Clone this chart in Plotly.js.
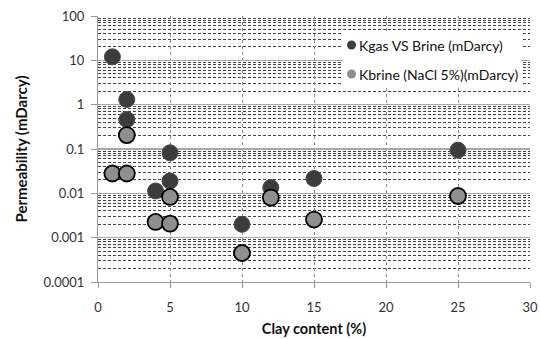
<!DOCTYPE html>
<html><head><meta charset="utf-8">
<script src="https://cdn.plot.ly/plotly-3.0.1.min.js"></script>
<style>body{margin:0;background:#fff}#c{width:540px;height:339px}</style>
</head><body><div id="c"></div>
<script>
var gasX = [1, 2, 2, 5, 5, 4, 10, 12, 15, 25];
var gasY = [12, 1.31, 0.46, 0.082, 0.019, 0.0113, 0.002, 0.0135, 0.0216, 0.094];
var brineX = [1, 2, 2, 5, 4, 5, 10, 12, 15, 25];
var brineY = [0.028, 0.028, 0.206, 0.0083, 0.00226, 0.00207, 0.00045, 0.008, 0.00256, 0.0087];
var gasName = 'Kgas VS Brine (mDarcy)';
var brineName = 'Kbrine (NaCl 5%)(mDarcy)';
var yTickVals = [0.0001, 0.001, 0.01, 0.1, 1, 10, 100];
var yTickText = ['0.0001', '0.001', '0.01', '0.1', '1', '10', '100'];
var xTickVals = [0, 5, 10, 15, 20, 25, 30];

var F = 'Lato, sans-serif';
var gasColor = '#3c3c3c', brineColor = '#8f8f8f';
var W = 540, H = 339, M = {l: 98, r: 10, t: 16, b: 57};
var pw = W - M.l - M.r, ph = H - M.t - M.b;
function px(x) { return (x - M.l) / pw; }
function py(y) { return 1 - (y - M.t) / ph; }

var traces = [
  {x: gasX, y: gasY, type: 'scatter', mode: 'markers', name: gasName, showlegend: false,
   marker: {size: 16, color: gasColor, line: {width: 1, color: '#4a4a4a'}}},
  {x: brineX, y: brineY, type: 'scatter', mode: 'markers', name: brineName, showlegend: false,
   marker: {size: 16, color: brineColor, line: {width: 1.8, color: '#000'}}}
];

var legendRows = [{name: gasName, color: gasColor, y: 45}, {name: brineName, color: brineColor, y: 74}];
var shapes = [{type: 'rect', xref: 'paper', yref: 'paper', x0: px(343), x1: px(521), y0: py(32), y1: py(86),
               fillcolor: '#fff', line: {width: 0}, layer: 'above'}];
var annotations = [];
legendRows.forEach(function (r) {
  shapes.push({type: 'circle', xref: 'paper', yref: 'paper', xsizemode: 'pixel', ysizemode: 'pixel',
               xanchor: px(351.5), yanchor: py(r.y), x0: -4.5, x1: 4.5, y0: -4.5, y1: 4.5,
               fillcolor: r.color, line: {width: 0}, layer: 'above'});
  annotations.push({xref: 'paper', yref: 'paper', x: px(357), y: py(r.y), xanchor: 'left', yanchor: 'middle',
                    text: r.name, showarrow: false, font: {family: F, size: 14, color: '#111'}});
});

var layout = {
  width: W, height: H,
  margin: M,
  paper_bgcolor: '#fff', plot_bgcolor: '#fff',
  font: {family: F, size: 13, color: '#222'},
  showlegend: false,
  shapes: shapes, annotations: annotations,
  xaxis: {range: [0, 30], tickvals: xTickVals, showgrid: true, gridcolor: '#8a8a8a', griddash: 'dot', gridwidth: 1,
          zeroline: false, showline: true, linecolor: '#999', linewidth: 1, ticks: 'outside', ticklen: 5, tickcolor: '#999',
          ticklabelstandoff: 8,
          tickfont: {family: F, size: 13, color: '#333'},
          title: {text: '<b>Clay content (%)</b>', font: {family: F, size: 14.5, color: '#111'}, standoff: 10}},
  yaxis: {type: 'log', range: [-4, 2], tickvals: yTickVals, ticktext: yTickText,
          showgrid: true, gridcolor: '#a8a8a8', gridwidth: 1.5,
          zeroline: false, showline: true, linecolor: '#999', linewidth: 1, ticks: 'outside', ticklen: 6, tickcolor: '#999',
          ticklabelstandoff: 4,
          tickfont: {family: F, size: 13, color: '#333'},
          minor: {dtick: 'D1', showgrid: true, gridcolor: '#444', griddash: '3px,2px', gridwidth: 1, ticks: ''},
          title: {text: '<b>Permeability (mDarcy)</b>', font: {family: F, size: 15, color: '#111'}, standoff: 12}}
};
Plotly.newPlot('c', traces, layout, {displayModeBar: false, staticPlot: true});
</script></body></html>
